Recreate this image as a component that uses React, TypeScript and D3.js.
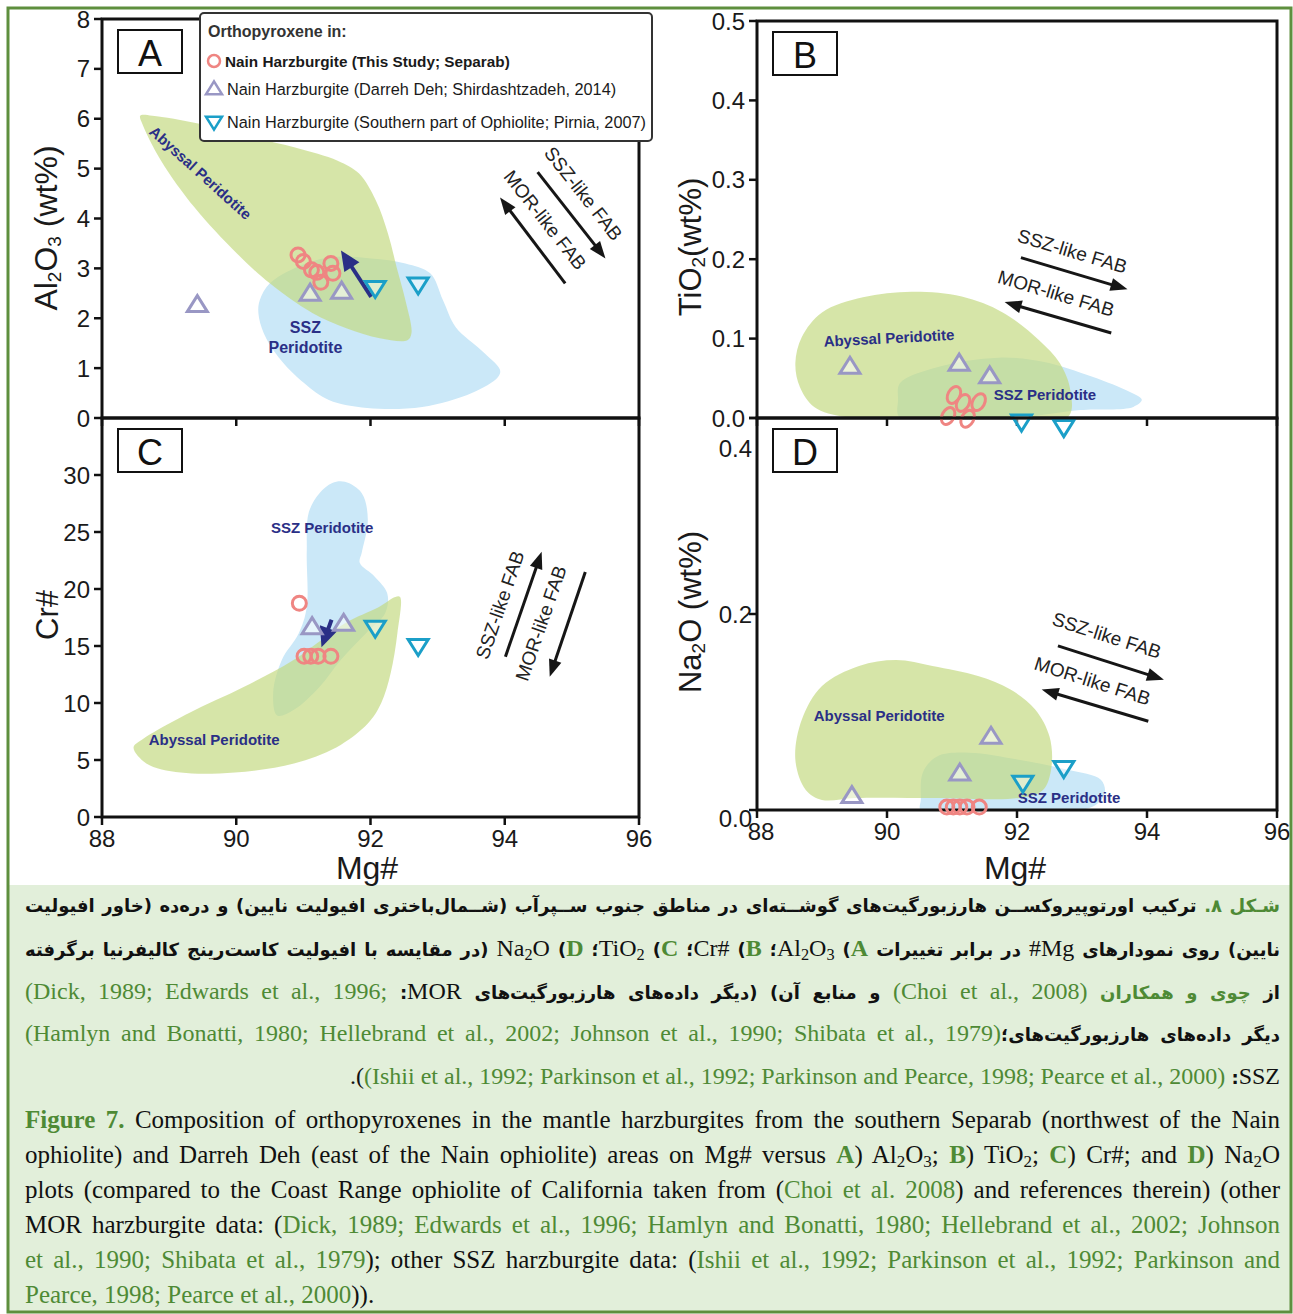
import React from "react";
import * as d3 from "d3";

type P = [number, number];

// ---------- ticks ----------
const mgTicks = [88, 90, 92, 94, 96];
const alTicks = [0, 1, 2, 3, 4, 5, 6, 7, 8];
const tiTicks = [0, 0.1, 0.2, 0.3, 0.4, 0.5];
const crTicks = [0, 5, 10, 15, 20, 25, 30];
const naTicks = [0, 0.2, 0.4];

const legendTitle = "Orthopyroxene in:";
const legendItems = [
  "Nain Harzburgite (This Study; Separab)",
  "Nain Harzburgite (Darreh Deh; Shirdashtzadeh, 2014)",
  "Nain Harzburgite (Southern part of Ophiolite; Pirnia, 2007)",
];

// ---------- A) Al2O3 vs Mg# ----------
const separabAl: P[] = [[90.92, 3.27], [91.0, 3.14], [91.12, 2.97], [91.2, 2.92], [91.26, 2.72], [91.41, 3.1], [91.44, 2.9]];
const darrehAl: P[] = [[89.42, 2.24], [91.1, 2.47], [91.57, 2.51]];
const pirniaAl: P[] = [[92.07, 2.63], [92.71, 2.7]];
const abyssalAl: P[] = [[88.57, 6.06], [88.75, 6.06], [89.45, 5.9], [90.26, 5.62], [90.89, 5.42], [91.51, 5.16], [91.83, 4.9], [92.08, 4.36], [92.26, 3.7], [92.39, 3.02], [92.52, 2.36], [92.61, 1.7], [92.55, 1.56], [92.14, 1.6], [91.64, 1.8], [91.14, 2.1], [90.5, 2.7], [90.01, 3.3], [89.38, 4.22], [88.88, 5.16], [88.6, 5.9]];
const sszAl: P[] = [[90.35, 2.36], [90.5, 2.7], [90.89, 3.02], [91.38, 3.22], [92.01, 3.2], [92.52, 3.1], [92.89, 2.9], [93.08, 2.36], [93.27, 1.82], [93.65, 1.36], [93.93, 0.96], [93.9, 0.82], [93.51, 0.5], [92.77, 0.22], [91.95, 0.2], [91.38, 0.36], [91.01, 0.7], [90.63, 1.22], [90.41, 1.7], [90.33, 2.1]];
const trendAl: P[] = [[92.01, 2.43], [91.56, 3.36]];
const fabSszAl: P[] = [[94.49, 4.93], [95.5, 3.2]];
const fabMorAl: P[] = [[94.9, 2.7], [93.93, 4.42]];
const fabTextAl: P[] = [[95.17, 4.5], [94.6, 3.97]];
const regionTextAl: P[] = [[89.47, 4.92], [91.03, 1.82], [91.03, 1.42]];

// ---------- B) TiO2 vs Mg# ----------
const separabTi: P[] = [[91.03, 0.029], [91.17, 0.019], [91.41, 0.02], [90.94, 0.0025], [91.24, -0.001]];
const darrehTi: P[] = [[89.43, 0.063], [91.11, 0.067], [91.58, 0.051]];
const pirniaTi: P[] = [[92.07, -0.003], [92.72, -0.01]];
const abyssalTi: P[] = [[88.59, 0.069], [88.69, 0.102], [89.0, 0.133], [89.63, 0.152], [90.38, 0.159], [91.15, 0.153], [91.78, 0.133], [92.34, 0.098], [92.66, 0.069], [92.82, 0.035], [92.78, 0.001], [90.77, 0.0], [89.38, 0.001], [88.88, 0.014], [88.66, 0.039]];
const sszTi: P[] = [[90.2, 0.044], [90.77, 0.064], [91.71, 0.076], [92.4, 0.071], [93.16, 0.052], [93.73, 0.033], [93.92, 0.023], [93.79, 0.014], [92.97, 0.01], [92.03, 0.001], [90.2, 0], [90.17, 0.023]];
const fabSszTi: P[] = [[92.06, 0.202], [93.7, 0.162]];
const fabMorTi: P[] = [[93.45, 0.107], [91.81, 0.146]];
const fabTextTi: P[] = [[92.85, 0.21], [92.6, 0.157]];
const regionTextTi: P[] = [[90.03, 0.101], [92.43, 0.029]];

// ---------- C) Cr# vs Mg# ----------
const separabCr: P[] = [[90.94, 18.75], [91.01, 14.1], [91.11, 14.1], [91.22, 14.1], [91.41, 14.1]];
const darrehCr: P[] = [[91.13, 16.55], [91.6, 16.84]];
const pirniaCr: P[] = [[92.07, 16.7], [92.71, 15.1]];
const sszCr: P[] = [[91.62, 29.4], [91.87, 28.4], [91.96, 26.1], [91.87, 23.2], [91.84, 22.3], [92.06, 21.1], [92.25, 19.6], [92.22, 17.9], [91.93, 16.1], [91.56, 13.8], [91.24, 11.4], [90.86, 9.4], [90.61, 8.9], [90.55, 10.9], [90.68, 13.8], [90.93, 16.1], [91.05, 18.4], [91.05, 23.2], [91.08, 26.7], [91.24, 28.4], [91.43, 29.3]];
const abyssalCr: P[] = [[92.44, 19.3], [92.4, 16.1], [92.3, 12.6], [92.16, 10.0], [91.96, 8.2], [91.49, 6.1], [90.86, 4.7], [89.98, 3.9], [89.17, 3.9], [88.66, 4.7], [88.47, 6.1], [88.6, 6.8], [89.29, 9.1], [90.11, 11.4], [90.86, 13.8], [91.62, 17.0], [92.12, 18.4], [92.37, 19.3]];
const trendCr: P[] = [[91.42, 17.3], [91.27, 14.9]];
const fabSszCr: P[] = [[94.01, 14.06], [94.55, 23.27]];
const fabMorCr: P[] = [[95.2, 21.5], [94.67, 12.3]];
const fabTextCr: P[] = [[93.93, 18.6], [94.54, 17.0]];
const regionTextCr: P[] = [[91.28, 25.4], [89.67, 6.84]];

// ---------- D) Na2O vs Mg# ----------
const separabNa: P[] = [[90.92, 0.003], [91.02, 0.003], [91.12, 0.003], [91.23, 0.003], [91.42, 0.003]];
const darrehNa: P[] = [[91.6, 0.0735], [91.12, 0.036], [89.46, 0.013]];
const pirniaNa: P[] = [[92.09, 0.029], [92.72, 0.044]];
const abyssalNa: P[] = [[88.59, 0.0513], [88.69, 0.0923], [89.0, 0.1265], [89.57, 0.147], [90.14, 0.153], [90.7, 0.147], [91.4, 0.1367], [91.9, 0.123], [92.28, 0.1026], [92.5, 0.075], [92.53, 0.044], [92.4, 0.0205], [92.03, 0.0123], [90.77, 0.0123], [89.51, 0.0123], [89.0, 0.0103], [88.75, 0.0205]];
const sszNa: P[] = [[90.52, 0.0103], [90.55, 0.038], [90.77, 0.0547], [91.27, 0.0585], [92.03, 0.0513], [92.78, 0.041], [93.29, 0.0308], [93.35, 0.0174], [93.16, 0.0034], [92.03, 0], [90.52, 0]];
const fabSszNa: P[] = [[92.63, 0.1675], [94.26, 0.133]];
const fabMorNa: P[] = [[94.02, 0.0906], [92.38, 0.123]];
const fabTextNa: P[] = [[93.38, 0.178], [93.16, 0.1316]];
const regionTextNa: P[] = [[89.88, 0.096], [92.8, 0.0123]];

// ---------- styles ----------
const SANS = "'Liberation Sans', Arial, sans-serif";
const SERIF = "'Liberation Serif', 'Times New Roman', serif";
const FA = "'DejaVu Sans', sans-serif";
const NAVY = "#2a2f86";
const GREEN_FILL = "#c3d97f";
const BLUE_FILL = "#cbe8f8";
const RED = "#ef8582";
const PURPLE = "#9997c4";
const CYAN = "#1b9fc8";
const CAP_GREEN = "#4e8a35";
const FA_SIZE = 18;
const EN_SIZE = 25;

function arrow(x1: number, y1: number, x2: number, y2: number, hl: number, hw: number) {
  const a = Math.atan2(y2 - y1, x2 - x1);
  const bx = x2 - hl * Math.cos(a);
  const by = y2 - hl * Math.sin(a);
  const px = (-Math.sin(a) * hw) / 2;
  const py = (Math.cos(a) * hw) / 2;
  return {
    line: `M${x1},${y1}L${bx + Math.cos(a) * 2},${by + Math.sin(a) * 2}`,
    head: `M${x2},${y2}L${bx + px},${by + py}L${bx - px},${by - py}Z`,
    angle: (a * 180) / Math.PI,
  };
}

function triPath(w: number, h: number, down: boolean) {
  const s = down ? -1 : 1;
  return `M0,${(-s * h * 2) / 3}L${w / 2},${(s * h) / 3}L${-w / 2},${(s * h) / 3}Z`;
}

interface PanelProps {
  id: string;
  letter: string;
  x0: number;
  x1: number;
  yTop: number;
  yBot: number;
  yDomain: [number, number];
  yTicks: number[];
  fmt: (v: number) => string;
  gap: number;
  nudge?: Record<number, number>;
  xLabels: boolean;
  separab: P[];
  darreh: P[];
  pirnia: P[];
  abyssal: P[];
  ssz: P[];
  trend?: P[];
  fabSsz: P[];
  fabMor: P[];
  fabText: P[];
  regionText: P[];
  regionNames: string[];
  abyssalAngle: number;
  ellipse?: boolean;
}

function Panel(p: PanelProps) {
  const x = d3.scaleLinear().domain([88, 96]).range([p.x0, p.x1]);
  const y = d3.scaleLinear().domain(p.yDomain).range([p.yBot, p.yTop]);
  const shape = d3
    .line<P>()
    .x((d) => x(d[0]))
    .y((d) => y(d[1]))
    .curve(d3.curveCatmullRomClosed.alpha(0.5));

  const fs = arrow(x(p.fabSsz[0][0]), y(p.fabSsz[0][1]), x(p.fabSsz[1][0]), y(p.fabSsz[1][1]), 17, 13);
  const fm = arrow(x(p.fabMor[0][0]), y(p.fabMor[0][1]), x(p.fabMor[1][0]), y(p.fabMor[1][1]), 17, 13);
  let ta = fs.angle;
  if (ta > 90) ta -= 180;
  if (ta < -90) ta += 180;
  const tr = p.trend ? arrow(x(p.trend[0][0]), y(p.trend[0][1]), x(p.trend[1][0]), y(p.trend[1][1]), 20, 18) : null;

  return (
    <g>
      <defs>
        <clipPath id={`clip-${p.id}`}>
          <rect x={p.x0} y={p.yTop} width={p.x1 - p.x0} height={p.yBot - p.yTop} />
        </clipPath>
      </defs>
      <g clipPath={`url(#clip-${p.id})`}>
        <path d={shape(p.ssz) || ""} fill={BLUE_FILL} />
        <path d={shape(p.abyssal) || ""} fill={GREEN_FILL} opacity={0.68} />
      </g>

      {/* region names */}
      {p.regionNames.map((name, i) => {
        const [mx, my] = p.regionText[i];
        const rot = i === 0 ? p.abyssalAngle : 0;
        return (
          <text
            key={name + i}
            transform={`translate(${x(mx)},${y(my)}) rotate(${rot})`}
            textAnchor="middle"
            dominantBaseline="central"
            fontFamily={SANS}
            fontWeight="bold"
            fontSize={p.id === "A" && i > 0 ? 16 : 15}
            fill={NAVY}
          >
            {name}
          </text>
        );
      })}

      {/* FAB arrows */}
      <g stroke="#161616" strokeWidth={3} fill="#161616">
        <path d={fs.line} fill="none" />
        <path d={fs.head} stroke="none" />
        <path d={fm.line} fill="none" />
        <path d={fm.head} stroke="none" />
      </g>
      {["SSZ-like FAB", "MOR-like FAB"].map((t, i) => (
        <text
          key={t}
          transform={`translate(${x(p.fabText[i][0])},${y(p.fabText[i][1])}) rotate(${ta})`}
          textAnchor="middle"
          dominantBaseline="central"
          fontFamily={SANS}
          fontSize={19}
          fill="#222"
        >
          {t}
        </text>
      ))}

      {/* frame */}
      <rect x={p.x0} y={p.yTop} width={p.x1 - p.x0} height={p.yBot - p.yTop} fill="none" stroke="#111" strokeWidth={3} />

      {/* y ticks */}
      {p.yTicks.map((t) => (
        <g key={t}>
          <line x1={p.x0 - 8} x2={p.x0} y1={y(t)} y2={y(t)} stroke="#111" strokeWidth={2.5} />
          <text
            x={p.x0 - p.gap}
            y={y(t) + (p.nudge && p.nudge[t] ? p.nudge[t] : 0)}
            textAnchor="end"
            dominantBaseline="central"
            fontFamily={SANS}
            fontSize={24}
            fill="#1a1a1a"
          >
            {p.fmt(t)}
          </text>
        </g>
      ))}

      {/* x ticks */}
      {mgTicks.map((t) => (
        <g key={t}>
          <line x1={x(t)} x2={x(t)} y1={p.yBot} y2={p.yBot + 8} stroke="#111" strokeWidth={2.5} />
          {p.xLabels && (
            <text x={x(t) + (t === 88 && p.id === "D" ? 4 : 0)} y={p.yBot + 21} textAnchor="middle" dominantBaseline="central" fontFamily={SANS} fontSize={24} fill="#1a1a1a">
              {t}
            </text>
          )}
        </g>
      ))}

      {/* data points */}
      {tr && (
        <g>
          <path d={tr.line} stroke={NAVY} strokeWidth={4} fill="none" />
          <path d={tr.head} fill={NAVY} />
        </g>
      )}
      {p.darreh.map((d, i) => (
        <path key={"d" + i} transform={`translate(${x(d[0])},${y(d[1])})`} d={triPath(20, 16, false)} fill="rgba(255,255,255,0.55)" stroke={PURPLE} strokeWidth={3} />
      ))}
      {p.pirnia.map((d, i) => (
        <path key={"p" + i} transform={`translate(${x(d[0])},${y(d[1])})`} d={triPath(20, 16, true)} fill="rgba(255,255,255,0.45)" stroke={CYAN} strokeWidth={3} />
      ))}
      {p.separab.map((d, i) =>
        p.ellipse ? (
          <ellipse key={"s" + i} transform={`translate(${x(d[0])},${y(d[1])}) rotate(28)`} rx={6} ry={9} fill="none" stroke={RED} strokeWidth={3} />
        ) : (
          <circle key={"s" + i} cx={x(d[0])} cy={y(d[1])} r={7} fill="none" stroke={RED} strokeWidth={3} />
        )
      )}

      {/* panel letter */}
      <rect x={p.x0 + 16} y={p.yTop + 11} width={64} height={43} fill="#fff" stroke="#111" strokeWidth={2} />
      <text x={p.x0 + 48} y={p.yTop + 34} textAnchor="middle" dominantBaseline="central" fontFamily={SANS} fontSize={36} fill="#111">
        {p.letter}
      </text>
    </g>
  );
}

function Legend() {
  const rows = [61, 89, 122];
  return (
    <g>
      <rect x={200} y={13} width={452} height={128} rx={4} fill="#fff" stroke="#333" strokeWidth={2} />
      <text x={208} y={31} dominantBaseline="central" fontFamily={SANS} fontSize={16} fontWeight="bold" fill="#333">
        {legendTitle}
      </text>
      <circle cx={214} cy={rows[0]} r={6} fill="none" stroke={RED} strokeWidth={2.5} />
      <path transform={`translate(214,${rows[1] + 1})`} d={triPath(16, 13, false)} fill="none" stroke={PURPLE} strokeWidth={2.5} />
      <path transform={`translate(214,${rows[2] - 1})`} d={triPath(16, 13, true)} fill="none" stroke={CYAN} strokeWidth={2.5} />
      {legendItems.map((t, i) => (
        <text key={t} x={i === 0 ? 225 : 227} y={rows[i]} dominantBaseline="central" fontFamily={SANS} fontSize={i === 0 ? 15.3 : 16.3} fontWeight={i === 0 ? "bold" : "normal"} fill="#1a1a1a">
          {t}
        </text>
      ))}
    </g>
  );
}

// ---------- caption ----------
const Sub = ({ children }: { children: React.ReactNode }) => (
  <sub style={{ fontSize: "0.68em", verticalAlign: "-0.25em", lineHeight: 0 }}>{children}</sub>
);
const Gr = ({ children, b }: { children: React.ReactNode; b?: boolean }) => (
  <span style={{ color: CAP_GREEN, fontWeight: b ? "bold" : undefined }}>{children}</span>
);
const Lt = ({ children, g, b }: { children: React.ReactNode; g?: boolean; b?: boolean }) => (
  <bdi style={{ fontFamily: SERIF, fontWeight: b ? "bold" : "normal", color: g ? CAP_GREEN : "#111", fontSize: EN_SIZE - 1 }}>{children}</bdi>
);

function CapLine(props: { top: number; dir: "rtl" | "ltr"; last?: boolean; font: string; size: number; bold?: boolean; children: React.ReactNode }) {
  const align = props.last ? (props.dir === "rtl" ? "right" : "left") : "justify";
  return (
    <div
      dir={props.dir}
      style={{
        position: "absolute",
        left: 25,
        width: 1255,
        top: props.top - 20,
        height: 40,
        lineHeight: "40px",
        whiteSpace: "nowrap",
        textAlign: align as any,
        textAlignLast: align as any,
        fontFamily: props.font,
        fontSize: props.size,
        fontWeight: props.bold ? "bold" : "normal",
        color: "#111",
      }}
    >
      {props.children}
    </div>
  );
}

const faTops = [906, 948, 991, 1033, 1076];
const enTops = [1120, 1155, 1190, 1225, 1260, 1295];

export default function App() {
  const common = { gap: 12 };
  const latinFa = { fontFamily: SERIF, fontWeight: "normal" as const, fontSize: EN_SIZE - 1 };
  return (
    <div style={{ position: "absolute", left: 0, top: 0, width: 1293, height: 1314, background: "#fff", overflow: "hidden" }}>
      <svg width={1293} height={1314} style={{ position: "absolute", left: 0, top: 0 }}>
        <rect x={0} y={0} width={1293} height={1314} fill="#fff" />
        <rect x={9} y={885} width={1281} height={428} fill="#e2efda" />
        <Panel
          id="A" letter="A" x0={102} x1={639} yTop={19} yBot={418} yDomain={[0, 8]} yTicks={alTicks}
          fmt={(v) => String(v)} {...common} xLabels={false}
          separab={separabAl} darreh={darrehAl} pirnia={pirniaAl} abyssal={abyssalAl} ssz={sszAl}
          trend={trendAl} fabSsz={fabSszAl} fabMor={fabMorAl} fabText={fabTextAl}
          regionText={regionTextAl} regionNames={["Abyssal Peridotite", "SSZ", "Peridotite"]} abyssalAngle={42}
        />
        <Panel
          id="B" letter="B" x0={757} x1={1277} yTop={21} yBot={418} yDomain={[0, 0.5]} yTicks={tiTicks}
          fmt={(v) => v.toFixed(1)} {...common} xLabels={false}
          separab={separabTi} darreh={darrehTi} pirnia={pirniaTi} abyssal={abyssalTi} ssz={sszTi}
          fabSsz={fabSszTi} fabMor={fabMorTi} fabText={fabTextTi}
          regionText={regionTextTi} regionNames={["Abyssal Peridotite", "SSZ Peridotite"]} abyssalAngle={-3} ellipse
        />
        <Panel
          id="C" letter="C" x0={102} x1={639} yTop={418} yBot={817} yDomain={[0, 35]} yTicks={crTicks}
          fmt={(v) => String(v)} {...common} xLabels={true}
          separab={separabCr} darreh={darrehCr} pirnia={pirniaCr} abyssal={abyssalCr} ssz={sszCr}
          trend={trendCr} fabSsz={fabSszCr} fabMor={fabMorCr} fabText={fabTextCr}
          regionText={regionTextCr} regionNames={["SSZ Peridotite", "Abyssal Peridotite"]} abyssalAngle={0}
        />
        <Panel
          id="D" letter="D" x0={757} x1={1277} yTop={418} yBot={810} yDomain={[0, 0.4]} yTicks={naTicks}
          fmt={(v) => v.toFixed(1)} gap={5} nudge={{ 0: 8, 0.4: 30 }} xLabels={true}
          separab={separabNa} darreh={darrehNa} pirnia={pirniaNa} abyssal={abyssalNa} ssz={sszNa}
          fabSsz={fabSszNa} fabMor={fabMorNa} fabText={fabTextNa}
          regionText={regionTextNa} regionNames={["Abyssal Peridotite", "SSZ Peridotite"]} abyssalAngle={0}
        />
        <Legend />

        {/* axis titles */}
        <g fontFamily={SANS} fill="#1a1a1a">
          <text transform="translate(46,228) rotate(-90)" textAnchor="middle" dominantBaseline="central" fontSize={32}>
            Al<tspan fontSize={19} dy={8}>2</tspan><tspan dy={-8}>O</tspan><tspan fontSize={19} dy={8}>3</tspan><tspan dy={-8}> (wt%)</tspan>
          </text>
          <text transform="translate(690,247) rotate(-90)" textAnchor="middle" dominantBaseline="central" fontSize={31}>
            TiO<tspan fontSize={19} dy={8}>2</tspan><tspan dy={-8}>(wt%)</tspan>
          </text>
          <text transform="translate(47,615) rotate(-90)" textAnchor="middle" dominantBaseline="central" fontSize={31}>
            Cr#
          </text>
          <text transform="translate(690,612) rotate(-90)" textAnchor="middle" dominantBaseline="central" fontSize={31}>
            Na<tspan fontSize={19} dy={8}>2</tspan><tspan dy={-8}>O (wt%)</tspan>
          </text>
          <text x={367} y={868} textAnchor="middle" dominantBaseline="central" fontSize={32}>Mg#</text>
          <text x={1015} y={868} textAnchor="middle" dominantBaseline="central" fontSize={32}>Mg#</text>
        </g>

        {/* outer frame */}
        <rect x={8} y={8} width={1283} height={1304} fill="none" stroke="#5e8f3e" strokeWidth={3} />
      </svg>

      {/* Persian caption */}
      <CapLine top={faTops[0]} dir="rtl" font={FA} size={FA_SIZE} bold>
        <Gr b>شـکل ۸.</Gr> ترکیب اورتوپیروکســن هارزبورگیت‌های گوشــته‌ای در مناطق جنوب ســپرآب (شــمال‌باختری افیولیت نایین) و دره‌ده (خاور افیولیت
      </CapLine>
      <CapLine top={faTops[1]} dir="rtl" font={FA} size={FA_SIZE} bold>
        نایین) روی نمودارهای <span style={latinFa}>Mg#</span> در برابر تغییرات <Lt g b>A</Lt>) <Lt>Al<Sub>2</Sub>O<Sub>3</Sub></Lt>؛ <Lt g b>B</Lt>) <Lt>Cr#</Lt>؛ <Lt g b>C</Lt>) <Lt>TiO<Sub>2</Sub></Lt>؛ <Lt g b>D</Lt>) <Lt>Na<Sub>2</Sub>O</Lt> (در مقایسه با افیولیت کاست‌رینج کالیفرنیا برگرفته
      </CapLine>
      <CapLine top={faTops[2]} dir="rtl" font={FA} size={FA_SIZE} bold>
        از <Gr>چوی و همکاران</Gr> <Lt g>(Choi et al., 2008)</Lt> و منابع آن) (دیگر داده‌های هارزبورگیت‌های <span style={latinFa}>MOR</span>: <Lt g>(Dick, 1989; Edwards et al., 1996;</Lt>
      </CapLine>
      <CapLine top={faTops[3]} dir="rtl" font={FA} size={FA_SIZE} bold>
        دیگر داده‌های هارزبورگیت‌های؛<Lt g>(Hamlyn and Bonatti, 1980; Hellebrand et al., 2002; Johnson et al., 1990; Shibata et al., 1979)</Lt>
      </CapLine>
      <CapLine top={faTops[4]} dir="rtl" font={FA} size={FA_SIZE} bold last>
        <Lt>SSZ</Lt>: <Lt g>(Ishii et al., 1992; Parkinson et al., 1992; Parkinson and Pearce, 1998; Pearce et al., 2000)</Lt><Lt>.(</Lt>
      </CapLine>

      {/* English caption */}
      <CapLine top={enTops[0]} dir="ltr" font={SERIF} size={EN_SIZE}>
        <Gr b>Figure 7.</Gr> Composition of orthopyroxenes in the mantle harzburgites from the southern Separab (northwest of the Nain
      </CapLine>
      <CapLine top={enTops[1]} dir="ltr" font={SERIF} size={EN_SIZE}>
        ophiolite) and Darreh Deh (east of the Nain ophiolite) areas on Mg# versus <Gr b>A</Gr>) Al<Sub>2</Sub>O<Sub>3</Sub>; <Gr b>B</Gr>) TiO<Sub>2</Sub>; <Gr b>C</Gr>) Cr#; and <Gr b>D</Gr>) Na<Sub>2</Sub>O
      </CapLine>
      <CapLine top={enTops[2]} dir="ltr" font={SERIF} size={EN_SIZE}>
        plots (compared to the Coast Range ophiolite of California taken from (<Gr>Choi et al. 2008</Gr>) and references therein) (other
      </CapLine>
      <CapLine top={enTops[3]} dir="ltr" font={SERIF} size={EN_SIZE}>
        MOR harzburgite data: (<Gr>Dick, 1989; Edwards et al., 1996; Hamlyn and Bonatti, 1980; Hellebrand et al., 2002; Johnson</Gr>
      </CapLine>
      <CapLine top={enTops[4]} dir="ltr" font={SERIF} size={EN_SIZE}>
        <Gr>et al., 1990; Shibata et al., 1979</Gr>); other SSZ harzburgite data: (<Gr>Ishii et al., 1992; Parkinson et al., 1992; Parkinson and</Gr>
      </CapLine>
      <CapLine top={enTops[5]} dir="ltr" font={SERIF} size={EN_SIZE} last>
        <Gr>Pearce, 1998; Pearce et al., 2000</Gr>)).
      </CapLine>
    </div>
  );
}
